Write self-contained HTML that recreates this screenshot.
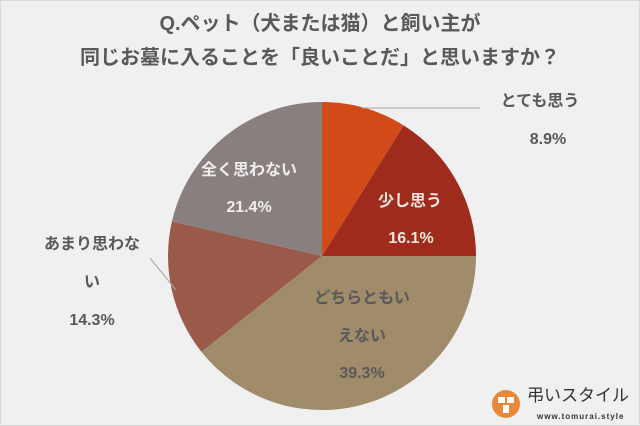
<!DOCTYPE html>
<html><head><meta charset="utf-8"><style>
body{margin:0;width:640px;height:426px;background:#efefef;overflow:hidden;font-family:"Liberation Sans","Noto Sans CJK JP",sans-serif}
svg{display:block}
</style></head><body>
<svg width="640" height="426">
<rect x="0.5" y="0.5" width="639" height="425" fill="#f0f0f0" stroke="#d9d9d9"/>
<text x="320" y="30" text-anchor="middle" font-size="20" font-weight="bold" fill="#595959">Q.ペット（犬または猫）と飼い主が</text>
<text x="320" y="64" text-anchor="middle" font-size="20" font-weight="bold" fill="#595959">同じお墓に入ることを「良いことだ」と思いますか？</text>
<g id="slices"></g>
<g id="labels" font-weight="bold" font-size="16"></g>
<g>
<circle cx="506" cy="404" r="14" fill="#e8893a"/>
<rect x="498" y="397" width="7" height="6" fill="#fff"/><rect x="507" y="397" width="7" height="6" fill="#fff"/><rect x="503" y="405" width="6" height="8" fill="#fff"/>
<text x="527" y="401" font-size="17" fill="#333">弔いスタイル</text>
<text x="537" y="419" font-size="8" font-weight="bold" fill="#333" letter-spacing="1">www.tomurai.style</text>
</g>
</svg>
<script>
const categories=["とても思う","少し思う","どちらともいえない","あまり思わない","全く思わない"];
const values=[8.9,16.1,39.3,14.3,21.4];
const colors=["#d24a18","#9e2b1c","#a08b6a","#9a5a4a","#8a7f7f"];
const cx=322,cy=256,r=154;
const NS="http://www.w3.org/2000/svg";
const g=document.getElementById('slices');
const total=values.reduce((a,b)=>a+b,0);
let a0=0;
function pt(a,rr){return [cx+rr*Math.sin(a),cy-rr*Math.cos(a)];}
values.forEach((v,i)=>{
 const a1=a0+v/total*2*Math.PI;
 const p0=pt(a0,r),p1=pt(a1,r);
 const p=document.createElementNS(NS,'path');
 p.setAttribute('d',`M${cx},${cy}L${p0[0]},${p0[1]}A${r},${r} 0 ${a1-a0>Math.PI?1:0} 1 ${p1[0]},${p1[1]}Z`);
 p.setAttribute('fill',colors[i]);
 
 
 g.appendChild(p);
 a0=a1;
});
const L=document.getElementById('labels');
function txt(x,y,s,fill,name){const t=document.createElementNS(NS,'text');t.setAttribute('x',x);t.setAttribute('y',y);t.setAttribute('text-anchor','middle');t.setAttribute('fill',fill);t.textContent=s;


L.appendChild(t);}
function line(d,name){const p=document.createElementNS(NS,'path');p.setAttribute('d',d);p.setAttribute('stroke','#a6a6a6');p.setAttribute('fill','none');


L.appendChild(p);}
line("M362,108L480,108","leader-line-1");
txt(540,106,categories[0],"#595959","label-1-name");
txt(548,144,values[0].toFixed(1)+"%","#595959","label-1-value");
txt(410,206,categories[1],"#f2e6dc","label-2-name");
txt(411,243,values[1].toFixed(1)+"%","#f2e6dc","label-2-value");
txt(362,303,"どちらともい","#595959","label-3-name-a");
txt(362,341,"えない","#595959","label-3-name-b");
txt(362,378,values[2].toFixed(1)+"%","#595959","label-3-value");
line("M150,258L176,290","leader-line-4");
txt(92,249,"あまり思わな","#595959","label-4-name-a");
txt(92,287,"い","#595959","label-4-name-b");
txt(92,325,values[3].toFixed(1)+"%","#595959","label-4-value");
txt(249,175,categories[4],"#eeeeee","label-5-name");
txt(249,212,values[4].toFixed(1)+"%","#eeeeee","label-5-value");
</script>
</body></html>
